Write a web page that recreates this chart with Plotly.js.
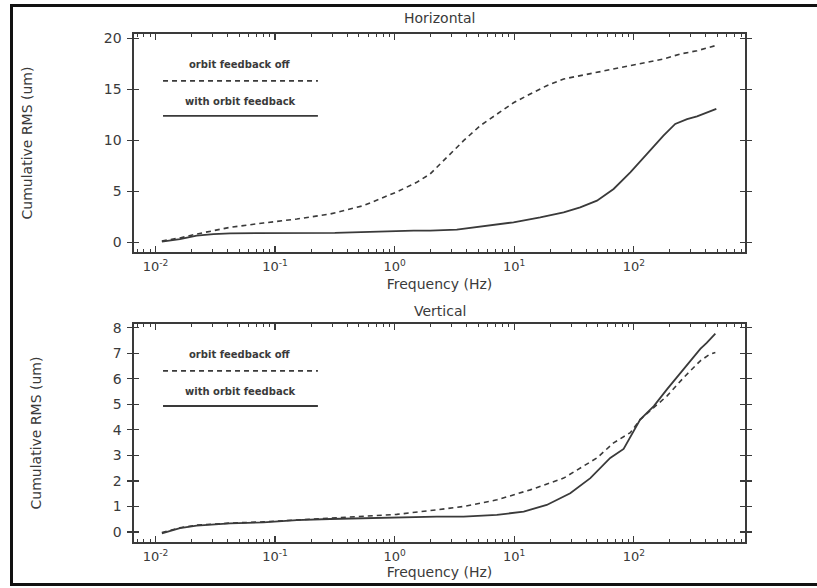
<!DOCTYPE html>
<html>
<head>
<meta charset="utf-8">
<script src="https://cdn.plot.ly/plotly-3.0.1.min.js"></script>
<style>
  html, body { margin: 0; padding: 0; background: #ffffff; }
  #chart { width: 817px; height: 588px; position: relative; }
  #frame {
    position: absolute; left: 10px; top: 4px; width: 807px; height: 582px;
    border-top: 3px solid #111; border-left: 3px solid #111; border-bottom: 3px solid #111;
    pointer-events: none; box-sizing: border-box;
  }
</style>
</head>
<body>
<div id="chart"></div>
<div id="frame"></div>
<script>
// ---- Data ----
// Horizontal plane, orbit feedback off
const hOffFreq = [0.0113, 0.016, 0.0221, 0.042, 0.0798, 0.152, 0.288, 0.548, 1.04, 1.53, 1.98, 2.73, 3.77, 5.19, 7.16, 9.86, 13.6, 18.7, 25.9, 35.6, 49.2, 67.8, 93.5, 129, 177, 245, 338, 481];
const hOffRms  = [0.15, 0.45, 0.83, 1.49, 1.91, 2.30, 2.79, 3.61, 4.95, 5.9, 6.72, 8.35, 9.98, 11.45, 12.6, 13.7, 14.56, 15.37, 16.03, 16.35, 16.68, 17.0, 17.33, 17.66, 17.99, 18.48, 18.8, 19.3];
// Horizontal plane, with orbit feedback
const hOnFreq = [0.0113, 0.016, 0.0221, 0.0305, 0.042, 0.0798, 0.316, 1.44, 1.98, 3.31, 6.31, 9.86, 16.5, 25.9, 35.6, 49.2, 67.8, 93.5, 129, 177, 222, 279, 338, 490];
const hOnRms  = [0.08, 0.34, 0.67, 0.83, 0.90, 0.93, 0.95, 1.16, 1.16, 1.26, 1.65, 1.98, 2.47, 2.96, 3.45, 4.10, 5.25, 6.88, 8.68, 10.47, 11.62, 12.1, 12.37, 13.1];
// Vertical plane, orbit feedback off
const vOffFreq = [0.0113, 0.016, 0.0221, 0.042, 0.0798, 0.152, 0.288, 0.55, 1.04, 2.25, 3.77, 7.16, 13.6, 25.9, 49.2, 67.8, 93.5, 113, 190, 262, 360, 430, 481];
const vOffRms  = [-0.02, 0.17, 0.27, 0.35, 0.40, 0.47, 0.53, 0.62, 0.69, 0.87, 1.0, 1.26, 1.65, 2.11, 2.90, 3.49, 3.89, 4.40, 5.33, 6.05, 6.7, 6.95, 7.03];
// Vertical plane, with orbit feedback
const vOnFreq = [0.0113, 0.016, 0.0221, 0.042, 0.0798, 0.152, 0.288, 0.55, 1.04, 2.25, 3.77, 7.16, 12.0, 18.7, 29.4, 43.3, 63.5, 82.2, 113, 147, 190, 262, 360, 407, 481];
const vOnRms  = [-0.05, 0.15, 0.25, 0.34, 0.38, 0.47, 0.51, 0.54, 0.58, 0.60, 0.60, 0.67, 0.80, 1.06, 1.52, 2.11, 2.90, 3.25, 4.40, 4.93, 5.59, 6.38, 7.17, 7.4, 7.76];

// Tick labels
const xTickVals = [0.01, 0.1, 1, 10, 100];
const xTickText = ['10<sup>-2</sup>', '10<sup>-1</sup>', '10<sup>0</sup>', '10<sup>1</sup>', '10<sup>2</sup>'];

const legendOff = 'orbit feedback off';
const legendOn = 'with orbit feedback';
const panelTitles = ['Horizontal', 'Vertical'];
const xTitle = 'Frequency (Hz)';
const yTitle = 'Cumulative RMS (um)';

// ---- Styling ----
const ink = '#3a3a3a';
const fontFam = 'DejaVu Sans, sans-serif';
const dashOff = '5px,4px';
const xRange = [-2.18, 2.93];

const traces = [
  {x: hOffFreq, y: hOffRms, xaxis: 'x', yaxis: 'y', mode: 'lines', name: legendOff,
   line: {color: ink, width: 1.6, dash: dashOff}},
  {x: hOnFreq, y: hOnRms, xaxis: 'x', yaxis: 'y', mode: 'lines', name: legendOn,
   line: {color: ink, width: 1.8}},
  {x: vOffFreq, y: vOffRms, xaxis: 'x2', yaxis: 'y2', mode: 'lines', name: legendOff,
   line: {color: ink, width: 1.6, dash: dashOff}},
  {x: vOnFreq, y: vOnRms, xaxis: 'x2', yaxis: 'y2', mode: 'lines', name: legendOn,
   line: {color: ink, width: 1.8}},
  // empty traces so the minor-tick axes exist
  {x: [], y: [], xaxis: 'x3', yaxis: 'y', mode: 'lines', hoverinfo: 'skip'},
  {x: [], y: [], xaxis: 'x4', yaxis: 'y2', mode: 'lines', hoverinfo: 'skip'}
];

function xAxis(anchor, standoff) {
  return {
    type: 'log', range: xRange, anchor: anchor, domain: [0, 1],
    tickmode: 'array', tickvals: xTickVals, ticktext: xTickText,
    ticks: 'inside', ticklen: 6, tickwidth: 1.2, tickcolor: ink,
    mirror: 'allticks', showline: true, linecolor: ink, linewidth: 1.6,
    showgrid: false, zeroline: false,
    tickfont: {family: fontFam, size: 13, color: ink},
    ticklabelstandoff: 2,
    title: {text: xTitle, font: {family: fontFam, size: 14, color: ink}, standoff: standoff}
  };
}
function minorAxis(overlay, anchor) {
  return {
    type: 'log', range: xRange, overlaying: overlay, anchor: anchor, side: 'bottom',
    dtick: 'D1', ticks: 'inside', ticklen: 3, tickwidth: 1, tickcolor: ink,
    mirror: 'allticks', showline: false, showticklabels: false,
    showgrid: false, zeroline: false
  };
}
function yAxis(anchor, domain, range, dtick) {
  return {
    anchor: anchor, domain: domain, range: range, dtick: dtick,
    ticks: 'inside', ticklen: 5, tickwidth: 1.2, tickcolor: ink,
    mirror: 'allticks', showline: true, linecolor: ink, linewidth: 1.6,
    showgrid: false, zeroline: false,
    tickfont: {family: fontFam, size: 14, color: ink},
    ticklabelstandoff: 8,
    title: {text: yTitle, font: {family: fontFam, size: 14, color: ink}, standoff: 68}
  };
}

const legendX0 = 0.0475, legendX1 = 0.301;
const shapes = [];
const annotations = [];
['y', 'y2'].forEach((yr, i) => {
  const xr = i === 0 ? 'x' : 'x2';
  shapes.push({type: 'line', xref: xr + ' domain', yref: yr + ' domain',
    x0: legendX0, x1: legendX1, y0: 0.785, y1: 0.785,
    line: {color: ink, width: 1.6, dash: dashOff}});
  shapes.push({type: 'line', xref: xr + ' domain', yref: yr + ' domain',
    x0: legendX0, x1: legendX1, y0: 0.624, y1: 0.624,
    line: {color: ink, width: 1.8}});
  annotations.push({xref: xr + ' domain', yref: yr + ' domain', x: (legendX0 + legendX1) / 2, y: 0.86,
    xanchor: 'center', yanchor: 'middle',
    text: '<b>' + legendOff + '</b>', showarrow: false,
    font: {family: fontFam, size: 10, color: ink}});
  annotations.push({xref: xr + ' domain', yref: yr + ' domain', x: (legendX0 + legendX1) / 2, y: 0.69,
    xanchor: 'center', yanchor: 'middle',
    text: '<b>' + legendOn + '</b>', showarrow: false,
    font: {family: fontFam, size: 10, color: ink}});
  annotations.push({xref: 'paper', yref: yr + ' domain', x: 0.5, y: 1, xanchor: 'center', yanchor: 'bottom',
    yshift: i === 0 ? 6 : 3,
    text: panelTitles[i], showarrow: false,
    font: {family: fontFam, size: 14, color: ink}});
});

const layout = {
  width: 817, height: 588,
  margin: {l: 134, r: 72, t: 34, b: 46},
  paper_bgcolor: '#ffffff', plot_bgcolor: '#ffffff',
  showlegend: false,
  xaxis: xAxis('y', 6),
  xaxis2: xAxis('y2', 1),
  xaxis3: minorAxis('x', 'y'),
  xaxis4: minorAxis('x2', 'y2'),
  yaxis: yAxis('x', [0.5709, 1], [-0.93, 20.44], 5),
  yaxis2: yAxis('x2', [0, 0.4291], [-0.39, 8.14], 1),
  shapes: shapes,
  annotations: annotations
};

Plotly.newPlot('chart', traces, layout, {displayModeBar: false, staticPlot: true});
</script>
</body>
</html>
